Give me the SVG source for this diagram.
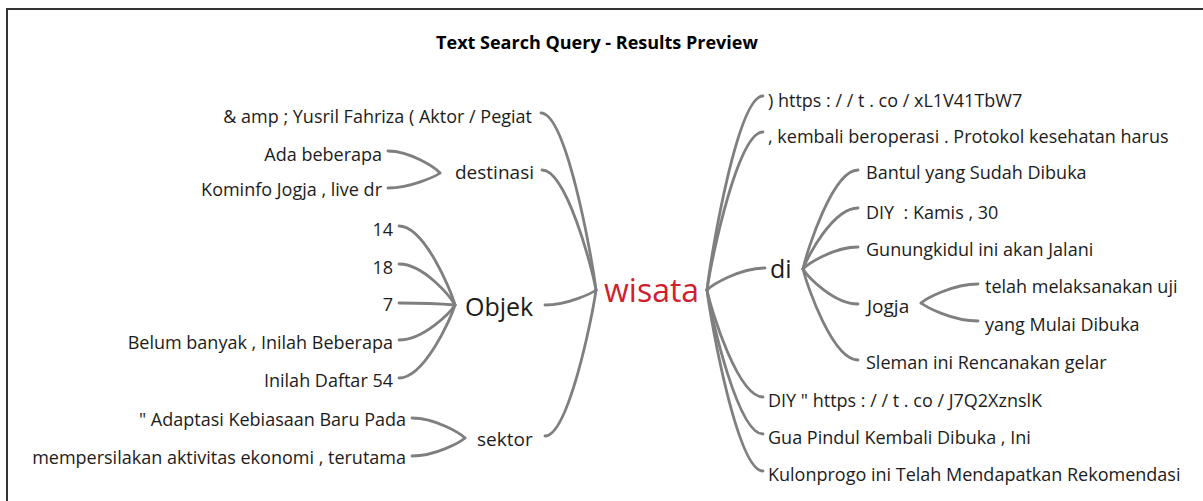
<svg xmlns="http://www.w3.org/2000/svg" width="1203" height="501" viewBox="0 0 1203 501">
<style>
text{font-family:"Open Sans","Noto Sans","DejaVu Sans",sans-serif;fill:#1c1c1c;white-space:pre}
.leaf{font-size:18px}
.mid{font-size:19px}
.big{font-size:25px}
.root{font-size:32px;fill:#d0202e}
.title{font-size:18px;font-weight:700;fill:#000}
.l{text-anchor:end}
#connectors path{fill:none;stroke:#7f7f7f;stroke-width:2.8;stroke-linecap:round}
</style>
<rect x="0" y="0" width="1203" height="501" fill="#ffffff"/>
<path d="M7,501 V9 H1203" fill="none" stroke="#333" stroke-width="2"/>
<text class="title" x="597" y="49" text-anchor="middle">Text Search Query - Results Preview</text>
<g id="connectors">
<path d="M541,113 C566,113 591.6,254.6 596,290"/>
<path d="M542,170 C566,170 591.7,266 596,290"/>
<path d="M545,305 C568,305 592,293 596,290"/>
<path d="M545,436 C568,436 592,319 596,290"/>
<path d="M388,151 C411,151 436,168.6 440,173"/>
<path d="M388,188 C411,188 436,176 440,173"/>
<path d="M399,226 C424,226 450.5,289 455,305"/>
<path d="M399,264 C424,264 450.5,297 455,305"/>
<path d="M399,303 C424,303 450.5,304.6 455,305"/>
<path d="M399,340 C424,340 450.5,312 455,305"/>
<path d="M399,378 C424,378 450.5,319.6 455,305"/>
<path d="M412,418 C436,418 461,434 465,438"/>
<path d="M412,456 C436,456 461,441.6 465,438"/>
<path d="M763,96 C738,96 711.5,251 707,290"/>
<path d="M763,132 C738,132 711.5,258 707,290"/>
<path d="M765,268 C739,268 711.6,285.6 707,290"/>
<path d="M763,397 C738,397 711.5,311.4 707,290"/>
<path d="M763,434 C738,434 711.5,318.8 707,290"/>
<path d="M763,471 C738,471 711.5,326.2 707,290"/>
<path d="M858,170 C833,170 807.4,249.2 803,269"/>
<path d="M858,208 C833,208 807.4,256.8 803,269"/>
<path d="M858,247 C833,247 807.4,264.6 803,269"/>
<path d="M858,304 C833,304 807.4,276 803,269"/>
<path d="M858,360 C833,360 807.4,287.2 803,269"/>
<path d="M978,284 C952,284 925.6,299.2 921,303"/>
<path d="M978,321 C952,321 925.6,306.6 921,303"/>
</g>
<g id="node-wisata"><text class="root" x="604" y="302">wisata</text></g>
<g id="node-yusril"><text class="leaf l" x="532" y="123">&amp; amp ; Yusril Fahriza ( Aktor / Pegiat</text></g>
<g id="node-destinasi"><text class="mid" x="455" y="179">destinasi</text></g>
<g id="node-ada"><text class="leaf l" x="382" y="161">Ada beberapa</text></g>
<g id="node-kominfo"><text class="leaf l" x="382" y="196">Kominfo Jogja , live dr</text></g>
<g id="node-objek"><text class="big" x="465" y="316">Objek</text></g>
<g id="node-14"><text class="leaf l" x="393" y="236">14</text></g>
<g id="node-18"><text class="leaf l" x="393" y="274">18</text></g>
<g id="node-7"><text class="leaf l" x="393" y="311">7</text></g>
<g id="node-belum"><text class="leaf l" x="393" y="349">Belum banyak , Inilah Beberapa</text></g>
<g id="node-inilah"><text class="leaf l" x="393" y="387">Inilah Daftar 54</text></g>
<g id="node-sektor"><text class="mid" x="477" y="446">sektor</text></g>
<g id="node-adaptasi"><text class="leaf l" x="406" y="426">" Adaptasi Kebiasaan Baru Pada</text></g>
<g id="node-mempersilakan"><text class="leaf l" x="406" y="464">mempersilakan aktivitas ekonomi , terutama</text></g>
<g id="node-https1"><text class="leaf" x="768" y="107">) https : / / t . co / xL1V41TbW7</text></g>
<g id="node-kembali"><text class="leaf" x="768" y="143">, kembali beroperasi . Protokol kesehatan harus</text></g>
<g id="node-di"><text class="big" x="770" y="278">di</text></g>
<g id="node-bantul"><text class="leaf" x="866" y="179">Bantul yang Sudah Dibuka</text></g>
<g id="node-kamis"><text class="leaf" x="866" y="219">DIY  : Kamis , 30</text></g>
<g id="node-gunung"><text class="leaf" x="866" y="256">Gunungkidul ini akan Jalani</text></g>
<g id="node-jogja"><text class="mid" x="867" y="313">Jogja</text></g>
<g id="node-telah"><text class="leaf" x="985" y="293">telah melaksanakan uji</text></g>
<g id="node-mulai"><text class="leaf" x="985" y="331">yang Mulai Dibuka</text></g>
<g id="node-sleman"><text class="leaf" x="866" y="369">Sleman ini Rencanakan gelar</text></g>
<g id="node-https2"><text class="leaf" x="768" y="407">DIY " https : / / t . co / J7Q2XznslK</text></g>
<g id="node-gua"><text class="leaf" x="768" y="444">Gua Pindul Kembali Dibuka , Ini</text></g>
<g id="node-kulon"><text class="leaf" x="768" y="481">Kulonprogo ini Telah Mendapatkan Rekomendasi</text></g>
</svg>
